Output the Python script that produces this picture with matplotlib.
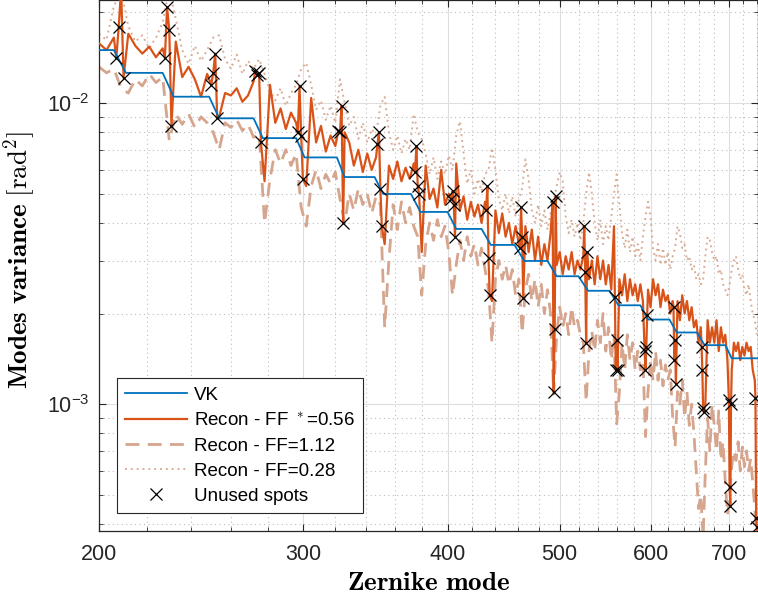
import numpy as np
import matplotlib
matplotlib.use('Agg')
import matplotlib.pyplot as plt
from matplotlib.ticker import FixedLocator, NullFormatter

plt.rcParams['font.family'] = ['Liberation Sans', 'DejaVu Sans']
plt.rcParams['mathtext.fontset'] = 'cm'

# last Zernike mode of each radial order (n = 19 .. 37)
order_last = [210, 231, 253, 276, 300, 325, 351, 378, 406, 435, 465, 496, 528, 561,
              595, 630, 666, 703, 741]
# VK level per radial order (x1e-3 rad^2) and mode where it starts to fall to the next one
vk_levels = [15.0, 12.6, 10.5, 8.9, 7.65, 6.6, 5.68, 4.99, 4.35, 3.82, 3.38, 2.99, 2.66,
             2.38, 2.13, 1.91, 1.73, 1.57, 1.42]
vk_ramp = [206, 227, 249, 272, 296, 321, 346, 372, 400, 428, 457, 488, 519, 552, 587,
           622, 657, 695, 741]

# reconstructions sampled every 3 modes, 200 .. 740 (x1e-3 rad^2)
grid_modes = np.arange(200, 741, 3)
recon_056 = [
    15.8, 15.0, 16.5, 22.0, 17.0, 15.5, 14.6, 15.4, 14.2, 15.2,   # 200
    17.5, 16.0, 12.2, 13.2, 12.0, 10.5, 12.5, 12.6, 9.0, 10.8,    # 230
    10.6, 11.2, 10.1, 10.6, 11.8, 12.6, 5.5, 11.5, 8.6, 9.6,      # 260
    8.2, 9.3, 8.6, 7.8, 5.3, 10.4, 7.4, 8.4, 6.9, 7.8,            # 290
    7.2, 8.0, 8.0, 7.4, 6.2, 7.0, 5.9, 6.8, 6.0, 6.6,             # 320
    5.2, 3.4, 6.2, 5.6, 6.4, 5.5, 6.1, 5.6, 6.3, 5.3,             # 350
    3.2, 6.2, 4.8, 5.2, 4.5, 6.0, 4.6, 5.0, 5.1, 6.3,             # 380
    4.4, 4.9, 4.1, 4.7, 4.2, 4.6, 4.0, 4.7, 3.05, 2.2,            # 410
    4.4, 3.7, 4.3, 3.6, 4.0, 3.4, 3.9, 3.4, 3.6, 3.9,             # 440
    3.2, 3.8, 3.0, 3.6, 2.9, 3.4, 3.0, 3.7, 1.1, 2.9,             # 470
    3.2, 2.7, 3.1, 2.8, 3.2, 2.7, 3.0, 2.8, 3.1, 1.6,             # 500
    2.6, 3.0, 2.5, 3.1, 2.6, 3.0, 2.5, 2.9, 2.4, 3.9,             # 530
    1.63, 2.6, 2.3, 2.7, 2.2, 2.6, 2.3, 2.5, 2.2, 2.5,            # 560
    2.2, 1.3, 2.4, 2.1, 2.6, 2.3, 2.5, 2.1, 2.4, 2.2,             # 590
    2.3, 2.0, 2.2, 1.63, 2.2, 1.9, 2.3, 2.0, 2.2, 1.9,            # 620
    2.1, 1.8, 1.9, 1.6, 1.8, 0.97, 1.0, 1.9, 1.6, 1.8,            # 650
    1.6, 1.9, 1.5, 1.8, 1.6, 1.7, 1.4, 0.53, 1.3, 1.6,            # 680
    1.5, 1.6, 1.4, 1.55, 1.45, 1.6, 1.5, 1.55, 1.3, 1.2,          # 710
    0.39]
recon_112 = [
    13.2, 12.6, 13.0, 11.2, 10.8, 12.0, 11.4, 12.5, 11.7, 12.2,
    7.5, 9.2, 8.5, 9.2, 8.3, 9.0, 8.6, 8.0, 7.0, 8.6,
    8.3, 8.8, 8.1, 8.5, 7.7, 7.9, 4.0, 5.6, 7.0, 6.3,
    7.0, 6.2, 6.8, 4.5, 3.9, 5.3, 6.0, 5.2, 5.8, 5.4,
    5.9, 4.8, 4.0, 5.0, 4.4, 5.2, 4.6, 5.0, 4.3, 4.9,
    4.6, 1.8, 3.0, 4.6, 3.8, 4.7, 4.0, 4.5, 3.9, 3.6,
    2.3, 3.4, 4.0, 3.5, 4.1, 3.6, 3.9, 3.2, 2.3, 2.9,
    3.5, 3.0, 3.6, 3.1, 3.4, 2.9, 3.3, 2.8, 2.4, 1.6,
    2.6, 3.0, 2.6, 2.9, 2.5, 2.8, 2.3, 2.6, 1.72, 2.4,
    2.7, 2.2, 2.6, 2.1, 2.5, 2.0, 2.4, 2.0, 1.08, 1.7,
    2.1, 1.8, 2.0, 1.7, 2.1, 1.8, 1.9, 1.7, 1.6, 1.02,
    1.5, 1.75, 1.5, 1.9, 1.6, 2.0, 1.5, 1.8, 1.4, 1.7,
    0.86, 1.1, 1.6, 1.3, 1.7, 1.4, 1.6, 1.3, 1.5, 1.3,
    1.4, 0.78, 1.1, 1.4, 1.2, 1.5, 1.2, 1.4, 1.15, 1.35,
    1.2, 1.3, 0.9, 0.72, 1.1, 1.0, 1.2, 0.9, 1.1, 0.85,
    1.0, 0.8, 0.6, 0.45, 0.5, 0.36, 0.6, 0.9, 0.7, 1.0,
    0.85, 0.7, 0.95, 0.65, 0.75, 0.55, 0.43, 0.5, 0.62, 0.7,
    0.65, 0.75, 0.6, 0.72, 0.62, 0.7, 0.6, 0.66, 0.55, 0.45,
    0.35]
recon_028 = [
    17.0, 16.2, 21.0, 23.5, 18.0, 16.0, 16.8, 15.2, 16.5, 18.5,
    24.0, 19.0, 15.0, 13.5, 15.5, 13.8, 15.0, 16.5, 16.8, 14.0,
    13.0, 14.5, 12.5, 13.8, 13.0, 14.0, 12.5, 11.0, 10.2, 11.2,
    9.8, 10.8, 11.5, 13.0, 13.6, 11.5, 9.5, 10.2, 8.8, 9.8,
    8.6, 12.0, 10.0, 8.4, 9.0, 7.6, 8.6, 7.4, 8.2, 7.8,
    9.8, 10.5, 8.0, 7.0, 7.8, 6.8, 7.6, 7.0, 9.2, 8.0,
    7.6, 6.8, 5.8, 6.6, 5.6, 6.4, 5.8, 6.7, 6.0, 7.8,
    8.7, 6.8, 5.4, 6.0, 5.0, 5.6, 5.1, 5.8, 6.0, 7.1,
    6.0, 4.8, 4.4, 5.0, 4.3, 4.9, 4.2, 4.8, 5.2, 6.5,
    5.6, 4.4, 4.0, 4.6, 3.9, 4.4, 3.8, 4.3, 4.7, 5.3,
    5.9, 5.5, 4.2, 3.7, 4.1, 3.6, 4.0, 3.5, 4.0, 5.0,
    5.9, 5.0, 4.0, 3.5, 4.1, 3.4, 3.9, 3.5, 4.2, 5.0,
    5.8, 4.6, 3.7, 3.3, 3.8, 3.2, 3.6, 3.1, 3.4, 3.0,
    3.6, 4.2, 4.7, 4.2, 3.3, 3.0, 3.4, 2.9, 3.3, 2.9,
    3.2, 2.8, 3.1, 3.3, 3.9, 3.7, 3.3, 3.4, 3.0, 3.1,
    2.8, 2.9, 2.6, 2.7, 2.5, 2.6, 3.1, 3.6, 3.5, 3.2,
    3.0, 3.1, 2.7, 2.8, 2.5, 2.4, 2.3, 2.5, 2.8, 3.0,
    3.1, 2.8, 2.6, 2.7, 2.4, 2.3, 2.5, 2.2, 2.0, 1.9,
    1.7]

# unused spots: last four modes of each radial order (x1e-3 rad^2)
spot_modes = [207, 208, 209, 210, 228, 229, 230, 231, 250, 251, 252, 253,
              273, 274, 275, 276, 297, 298, 299, 300, 322, 323, 324, 325,
              348, 349, 350, 351, 375, 376, 377, 378, 403, 404, 405, 406,
              432, 433, 434, 435, 462, 463, 464, 465, 493, 494, 495, 496,
              525, 526, 527, 528, 558, 559, 560, 561, 592, 593, 594, 595,
              627, 628, 629, 630, 663, 664, 665, 666, 700, 701, 702, 703,
              738, 739, 740, 741]
spot_vals = [14.1, 17.9, 24.0, 12.1, 14.1, 20.8, 17.5, 8.4, 11.5, 12.6, 14.6, 8.9,
             12.8, 12.4, 12.6, 7.4, 8.0, 11.4, 7.8, 5.6, 8.1, 8.0, 9.8, 4.0,
             7.3, 8.0, 5.2, 3.9, 5.9, 7.2, 5.3, 5.0, 4.8, 5.1, 4.6, 3.6,
             4.4, 5.3, 3.05, 2.3, 3.3, 4.5, 3.6, 2.25, 4.7, 1.1, 1.77, 4.9,
             3.9, 2.75, 1.6, 3.2, 2.27, 1.3, 1.63, 1.3, 1.5, 1.3, 1.55, 1.97,
             2.1, 1.4, 1.63, 1.17, 1.55, 1.3, 0.97, 0.94, 1.03, 0.53, 0.46, 1.0,
             1.05, 0.42, 0.39, 0.30]

scale = 1e-3
grid_modes = np.array(grid_modes)
spot_modes = np.array(spot_modes)
spot_vals = np.array(spot_vals) * scale

# VK step curve
vk_x, vk_y = [], []
for i, lev in enumerate(vk_levels):
    start = 200 if i == 0 else order_last[i - 1] + 1
    vk_x += [start, vk_ramp[i]]
    vk_y += [lev * scale, lev * scale]

# main reconstruction line goes through the unused spots too
keep = ~np.isin(grid_modes, spot_modes)
rx = np.concatenate([grid_modes[keep], spot_modes])
ry = np.concatenate([np.array(recon_056)[keep] * scale, spot_vals])
idx = np.argsort(rx)
rx, ry = rx[idx], ry[idx]

fig = plt.figure(figsize=(7.58, 5.99), dpi=100)
ax = fig.add_axes([99 / 758, 68 / 599, 658.5 / 758, 531 / 599])

ax.plot(vk_x, vk_y, color='#0072BD', lw=1.3, label='VK', zorder=4)
ax.plot(rx, ry, color='#D95319', lw=1.6, label='Recon - FF $^*$=0.56', zorder=3)
ax.plot(grid_modes, np.array(recon_112) * scale, color='#D6A58E', lw=2.0,
        dashes=(5, 3), label='Recon - FF=1.12', zorder=2)
ax.plot(grid_modes, np.array(recon_028) * scale, color='#D9AE98', lw=1.4,
        dashes=(1, 2), label='Recon - FF=0.28', zorder=1)
ax.plot(spot_modes, spot_vals, 'x', color='k', ms=9, mew=0.9, ls='none',
        label='Unused spots', zorder=5)

ax.set_xscale('log')
ax.set_yscale('log')
ax.set_xlim(200, 741)
ax.set_ylim(3.79e-4, 2.2e-2)

ax.xaxis.set_major_locator(FixedLocator([200, 300, 400, 500, 600, 700]))
ax.set_xticklabels(['200', '300', '400', '500', '600', '700'])
ax.xaxis.set_minor_locator(FixedLocator([m for m in range(220, 741, 20) if m % 100]))
ax.xaxis.set_minor_formatter(NullFormatter())
ax.yaxis.set_minor_formatter(NullFormatter())

ax.grid(True, which='major', color='#dedede', lw=0.8, ls='-')
ax.grid(True, which='minor', color='#bdbdbd', lw=0.8, ls=(0, (1, 3)))
ax.set_axisbelow(True)

ax.tick_params(which='both', direction='in', top=True, right=True,
               colors='#262626', labelsize=15.5)
ax.tick_params(axis='x', which='major', pad=9)
ax.tick_params(axis='y', which='major', pad=7)
ax.tick_params(which='major', length=5, width=0.8)
ax.tick_params(which='minor', length=3, width=0.6)
for s in ax.spines.values():
    s.set_color('#262626')
    s.set_linewidth(0.9)

ax.set_xlabel(r'$\mathbf{Zernike\ mode}$', fontsize=19.5)
ax.xaxis.set_label_coords(0.5, -0.074)
ax.set_ylabel(r'$\mathbf{Modes\ variance}\ [\mathrm{rad}^2]$', fontsize=19.5)
ax.yaxis.set_label_coords(-0.093, 0.51)

leg = ax.legend(loc='lower left', bbox_to_anchor=(0.027, 0.034), fontsize=13.5,
                handlelength=3.3, handletextpad=0.35, labelspacing=0.42,
                borderaxespad=0, fancybox=False, framealpha=1,
                edgecolor='#262626', borderpad=0.45)
leg.get_frame().set_linewidth(0.8)

fig.savefig('out.png', dpi=100)
